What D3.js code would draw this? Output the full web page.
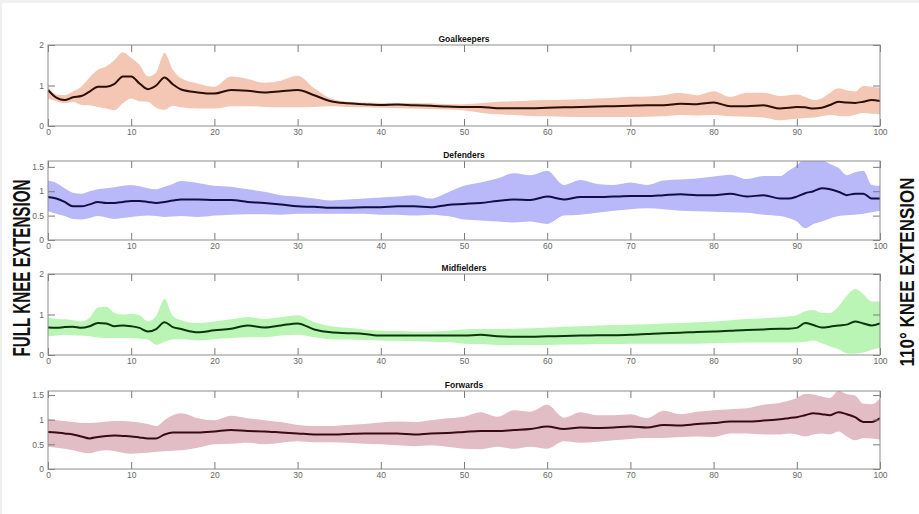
<!DOCTYPE html>
<html>
<head>
<meta charset="utf-8">
<script src="https://cdn.jsdelivr.net/npm/d3@7"></script>
<style>
  body { margin: 0; background: #f0f0f0; }
  svg { display: block; }
</style>
</head>
<body>
<div id="container"></div>
<script>
/* CONSTANTS AND GLOBALS */
const width = 919,
  height = 514,
  margin = { left: 48, right: 39 }

/* DATA */
// % of cycle sampled (dense where the curves move quickly)
const cycle = [0,1,2,3,4,5,6,7,8,9,10,11,12,13,14,15,16,
  18,20,22,24,26,28,30,32,34,36,38,40,42,44,46,48,50,52,54,56,
  58,60,62,64,66,68,70,72,74,76,78,80,82,84,86,88,
  89,90,91,92,93,94,95,96,97,98,99,100]

const xTicks = [0,10,20,30,40,50,60,70,80,90,100]

const gkMean = [0.89,0.70,0.64,0.71,0.74,0.85,0.97,0.97,1.04,1.22,1.22,1.05,0.91,1.00,1.20,1.03,0.90,
  0.83,0.80,0.89,0.87,0.83,0.86,0.89,0.76,0.61,0.56,0.54,0.52,0.53,0.51,0.50,0.48,0.47,0.47,0.44,0.44,
  0.44,0.45,0.46,0.47,0.48,0.49,0.50,0.51,0.51,0.55,0.54,0.58,0.49,0.49,0.51,0.43,
  0.45,0.47,0.46,0.43,0.45,0.52,0.60,0.58,0.57,0.60,0.64,0.62]
const gkUpper = [0.97,0.78,0.76,0.85,0.97,1.20,1.39,1.47,1.63,1.82,1.68,1.51,1.22,1.32,1.80,1.39,1.18,
  1.05,0.97,1.22,1.16,1.07,1.12,1.24,0.93,0.68,0.60,0.58,0.57,0.57,0.57,0.56,0.54,0.54,0.56,0.60,0.61,
  0.63,0.64,0.65,0.66,0.68,0.70,0.72,0.73,0.76,0.82,0.76,0.86,0.72,0.82,0.82,0.74,
  0.76,0.78,0.72,0.64,0.68,0.82,0.93,0.88,0.85,0.99,0.97,0.95]
const gkLower = [0.68,0.61,0.56,0.60,0.52,0.51,0.47,0.43,0.39,0.56,0.68,0.61,0.60,0.45,0.40,0.50,0.46,
  0.43,0.43,0.49,0.49,0.47,0.46,0.46,0.47,0.49,0.47,0.46,0.45,0.44,0.43,0.42,0.41,0.39,0.33,0.29,0.27,
  0.25,0.24,0.23,0.22,0.22,0.22,0.22,0.23,0.24,0.27,0.26,0.27,0.24,0.23,0.21,0.14,
  0.16,0.18,0.20,0.21,0.24,0.27,0.25,0.24,0.28,0.32,0.30,0.29]

const defMean = [0.88,0.85,0.78,0.69,0.69,0.73,0.78,0.76,0.76,0.78,0.80,0.80,0.78,0.76,0.78,0.81,0.83,
  0.83,0.82,0.82,0.78,0.76,0.73,0.69,0.68,0.66,0.66,0.67,0.67,0.69,0.69,0.67,0.72,0.74,0.76,0.80,0.83,
  0.82,0.89,0.83,0.88,0.88,0.89,0.90,0.90,0.92,0.94,0.92,0.92,0.95,0.89,0.92,0.85,
  0.85,0.89,0.96,1.00,1.06,1.04,0.99,0.92,0.95,0.95,0.85,0.85]
const defUpper = [1.22,1.17,1.06,0.97,0.95,1.00,1.04,1.06,1.08,1.11,1.13,1.10,1.06,1.04,1.09,1.15,1.21,
  1.17,1.11,1.09,1.04,0.99,0.92,0.89,0.85,0.81,0.83,0.85,0.87,0.89,0.92,0.85,0.97,1.11,1.18,1.26,1.37,
  1.33,1.42,1.13,1.23,1.15,1.13,1.18,1.13,1.22,1.24,1.26,1.30,1.34,1.25,1.31,1.31,
  1.42,1.53,1.68,1.68,1.65,1.56,1.48,1.33,1.39,1.42,1.13,1.11]
const defLower = [0.59,0.54,0.49,0.43,0.42,0.45,0.49,0.46,0.43,0.45,0.47,0.49,0.50,0.49,0.47,0.48,0.49,
  0.47,0.50,0.52,0.53,0.53,0.52,0.54,0.54,0.54,0.54,0.54,0.52,0.52,0.50,0.52,0.49,0.42,0.40,0.38,0.36,
  0.38,0.33,0.50,0.52,0.56,0.60,0.63,0.65,0.63,0.60,0.59,0.58,0.57,0.56,0.52,0.49,
  0.45,0.38,0.24,0.33,0.38,0.44,0.49,0.51,0.52,0.54,0.57,0.60]

const midMean = [0.68,0.67,0.69,0.70,0.67,0.71,0.79,0.78,0.71,0.73,0.71,0.67,0.58,0.64,0.81,0.69,0.64,
  0.56,0.61,0.65,0.73,0.68,0.73,0.78,0.63,0.56,0.54,0.52,0.48,0.48,0.48,0.48,0.48,0.48,0.50,0.46,0.45,
  0.45,0.46,0.47,0.48,0.49,0.49,0.50,0.52,0.54,0.55,0.57,0.58,0.60,0.62,0.63,0.65,
  0.65,0.67,0.79,0.74,0.68,0.70,0.73,0.75,0.83,0.78,0.73,0.78]
const midUpper = [0.92,0.89,0.88,0.86,0.83,0.92,1.17,1.19,1.04,1.00,1.02,0.98,0.83,0.96,1.38,0.96,0.86,
  0.79,0.83,0.88,0.94,0.89,0.93,0.98,0.81,0.71,0.67,0.63,0.60,0.59,0.58,0.58,0.60,0.63,0.64,0.64,0.65,
  0.66,0.68,0.70,0.71,0.73,0.74,0.75,0.76,0.78,0.79,0.81,0.83,0.86,0.89,0.91,0.93,
  0.95,0.98,1.08,1.11,1.04,1.04,1.19,1.46,1.63,1.50,1.32,1.32]
const midLower = [0.46,0.48,0.50,0.49,0.48,0.46,0.43,0.42,0.42,0.42,0.42,0.40,0.38,0.25,0.33,0.38,0.39,
  0.36,0.39,0.42,0.44,0.44,0.48,0.50,0.44,0.39,0.38,0.37,0.36,0.35,0.34,0.33,0.32,0.28,0.27,0.25,0.25,
  0.25,0.25,0.26,0.26,0.27,0.27,0.28,0.28,0.28,0.28,0.28,0.29,0.30,0.31,0.31,0.31,
  0.31,0.31,0.33,0.36,0.29,0.21,0.14,0.04,0.03,0.06,0.13,0.17]

const fwdMean = [0.75,0.74,0.72,0.70,0.66,0.62,0.65,0.67,0.68,0.67,0.66,0.64,0.62,0.62,0.70,0.74,0.74,
  0.74,0.76,0.79,0.77,0.76,0.74,0.72,0.70,0.70,0.71,0.72,0.72,0.72,0.70,0.72,0.73,0.75,0.77,0.77,0.79,
  0.81,0.86,0.81,0.84,0.83,0.84,0.86,0.84,0.89,0.88,0.91,0.93,0.96,0.96,0.98,1.01,
  1.03,1.05,1.09,1.13,1.11,1.09,1.15,1.11,1.05,0.95,0.95,1.03]
const fwdUpper = [1.01,0.99,0.97,0.95,0.93,0.93,0.94,0.96,0.97,0.97,0.96,0.94,0.91,0.87,0.99,1.09,1.13,
  1.03,0.99,1.08,1.03,0.99,0.95,0.89,0.87,0.87,0.89,0.91,0.94,0.96,0.95,0.99,1.03,1.06,1.15,1.06,1.19,
  1.16,1.30,1.04,1.15,1.09,1.09,1.11,1.03,1.18,1.11,1.16,1.19,1.21,1.23,1.30,1.34,
  1.38,1.44,1.52,1.51,1.47,1.44,1.58,1.52,1.49,1.32,1.31,1.44]
const fwdLower = [0.45,0.43,0.41,0.38,0.34,0.32,0.36,0.38,0.36,0.33,0.31,0.32,0.33,0.35,0.36,0.37,0.38,
  0.43,0.50,0.51,0.53,0.50,0.53,0.56,0.54,0.54,0.53,0.51,0.50,0.48,0.46,0.48,0.45,0.41,0.40,0.45,0.41,
  0.45,0.41,0.56,0.53,0.55,0.58,0.61,0.63,0.63,0.65,0.66,0.65,0.72,0.72,0.70,0.70,
  0.72,0.70,0.66,0.70,0.72,0.70,0.76,0.66,0.58,0.63,0.62,0.60]

const panels = [
  { title: "Goalkeepers", mean: gkMean, upper: gkUpper, lower: gkLower,
    top: 45, bottom: 126, yMax: 2, yTicks: [0, 1, 2], fill: "#f3c7b4", line: "#2b0e06" },
  { title: "Defenders", mean: defMean, upper: defUpper, lower: defLower,
    top: 161, bottom: 240, yMax: 1.62, yTicks: [0, 0.5, 1, 1.5], fill: "#b9b9f9", line: "#0f0f45" },
  { title: "Midfielders", mean: midMean, upper: midUpper, lower: midLower,
    top: 274, bottom: 355, yMax: 2, yTicks: [0, 1, 2], fill: "#baf5b6", line: "#0b360b" },
  { title: "Forwards", mean: fwdMean, upper: fwdUpper, lower: fwdLower,
    top: 391, bottom: 469, yMax: 1.58, yTicks: [0, 0.5, 1, 1.5], fill: "#e3bdc5", line: "#380a14" }
]

/* SVG */
const svg = d3.select("#container")
  .append("svg")
  .attr("width", width)
  .attr("height", height)

// white page, light grey rim on top/left like the scan
svg.append("rect")
  .attr("x", 2).attr("y", 3)
  .attr("width", width - 2).attr("height", height - 3)
  .attr("fill", "#fff")

/* SCALES */
const xScale = d3.scaleLinear()
  .domain([0, 100])
  .range([margin.left, width - margin.right])

const tickLen = 7

panels.forEach((p, i) => {
  const yScale = d3.scaleLinear()
    .domain([0, p.yMax])
    .range([p.bottom, p.top])

  const g = svg.append("g").attr("class", "panel")

  g.append("clipPath")
    .attr("id", "clip" + i)
    .append("rect")
    .attr("x", xScale(0)).attr("y", p.top)
    .attr("width", xScale(100) - xScale(0))
    .attr("height", p.bottom - p.top)

  const rows = cycle.map((c, j) => ({ x: c, m: p.mean[j], hi: p.upper[j], lo: p.lower[j] }))

  const area = d3.area()
    .x(d => xScale(d.x))
    .y0(d => yScale(d.lo))
    .y1(d => yScale(d.hi))
    .curve(d3.curveMonotoneX)

  const line = d3.line()
    .x(d => xScale(d.x))
    .y(d => yScale(d.m))
    .curve(d3.curveMonotoneX)

  const plot = g.append("g").attr("clip-path", `url(#clip${i})`)

  plot.append("path")
    .datum(rows)
    .attr("d", area)
    .attr("fill", p.fill)

  plot.append("path")
    .datum(rows)
    .attr("d", line)
    .attr("fill", "none")
    .attr("stroke", p.line)
    .attr("stroke-width", 2)

  // axes: matlab style, inward ticks on all four sides
  const xBottom = d3.axisBottom(xScale).tickValues(xTicks).tickSize(-tickLen).tickPadding(3)
  const xTop = d3.axisTop(xScale).tickValues(xTicks).tickSize(-tickLen).tickFormat("")
  const yLeft = d3.axisLeft(yScale).tickValues(p.yTicks).tickSize(-tickLen).tickPadding(4)
    .tickFormat(d3.format("~g"))
  const yRight = d3.axisRight(yScale).tickValues(p.yTicks).tickSize(-tickLen).tickFormat("")

  g.append("g").attr("transform", `translate(0,${p.bottom})`).call(xBottom)
  g.append("g").attr("transform", `translate(0,${p.top})`).call(xTop)
  g.append("g").attr("transform", `translate(${xScale(0)},0)`).call(yLeft)
  g.append("g").attr("transform", `translate(${xScale(100)},0)`).call(yRight)

  g.selectAll(".domain").remove()
  g.selectAll(".tick line").attr("stroke", "#7a7a7a")
  g.selectAll(".tick text")
    .attr("fill", "#666")
    .style("font-family", "Liberation Sans, Arial, sans-serif")
    .style("font-size", "8.5px")

  g.append("rect")
    .attr("x", xScale(0)).attr("y", p.top)
    .attr("width", xScale(100) - xScale(0))
    .attr("height", p.bottom - p.top)
    .attr("fill", "none")
    .attr("stroke", "#8c8c8c")
    .attr("stroke-width", 1)

  g.append("text")
    .attr("x", (xScale(0) + xScale(100)) / 2)
    .attr("y", p.top - 3)
    .attr("text-anchor", "middle")
    .style("font-family", "Liberation Sans, Arial, sans-serif")
    .style("font-size", "8.5px")
    .style("font-weight", "bold")
    .attr("fill", "#111")
    .text(p.title)
})

// side labels
svg.append("text")
  .attr("transform", "translate(30,268) rotate(-90)")
  .attr("text-anchor", "middle")
  .attr("textLength", 177)
  .attr("lengthAdjust", "spacingAndGlyphs")
  .style("font-family", "Liberation Sans, Arial, sans-serif")
  .style("font-size", "24px")
  .style("font-weight", "bold")
  .attr("fill", "#111")
  .text("FULL KNEE EXTENSION")

svg.append("text")
  .attr("transform", "translate(914,272) rotate(-90)")
  .attr("text-anchor", "middle")
  .attr("textLength", 189)
  .attr("lengthAdjust", "spacingAndGlyphs")
  .style("font-family", "Liberation Sans, Arial, sans-serif")
  .style("font-size", "20px")
  .style("font-weight", "bold")
  .attr("fill", "#111")
  .text("110° KNEE EXTENSION")
</script>
</body>
</html>
